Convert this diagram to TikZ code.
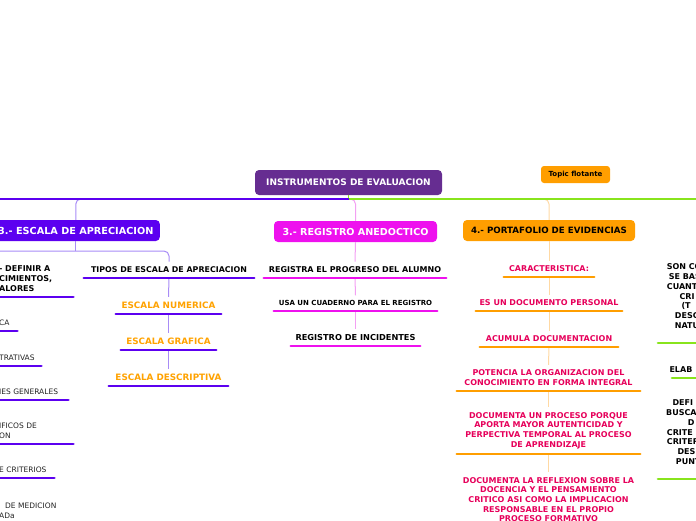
\documentclass[tikz,border=0pt]{standalone}
\usepackage{fontspec}
\setmainfont{DejaVu Sans}
\definecolor{rootc}{HTML}{662D91}
\definecolor{vio}{HTML}{5C00F0}
\definecolor{viol}{HTML}{A88CF6}
\definecolor{mag}{HTML}{EE11EE}
\definecolor{magl}{HTML}{F3A0F3}
\definecolor{orn}{HTML}{FF9E00}
\definecolor{ornl}{HTML}{FFD9A3}
\definecolor{ortx}{HTML}{FFA200}
\definecolor{crim}{HTML}{E6005A}
\definecolor{grn}{HTML}{88E41C}
\definecolor{dtx}{HTML}{222222}
\begin{document}
\begin{tikzpicture}[x=1pt,y=-1pt,
  topic/.style={rounded corners=4pt, inner sep=0pt, text=white},
  item/.style={inner xsep=0pt, inner ysep=5pt, align=center, anchor=south, font=\fontsize{8}{9.7}\selectfont\bfseries},
  leftitem/.style={inner xsep=0pt, inner ysep=5pt, align=left, anchor=south west, text=dtx, font=\fontsize{7.5}{10}\selectfont},
  ritem/.style={inner xsep=0pt, inner ysep=5pt, align=left, anchor=south west, text width=60pt, font=\fontsize{8}{9.7}\selectfont\bfseries},
  ul/.style={line width=2.7pt, line cap=round},
  conn/.style={line width=1pt},
  mainline/.style={line width=1.3pt},
]
\useasboundingbox (0,0) rectangle (696,520);
\clip (0,0) rectangle (696,520);

% coordinates
\coordinate (hub) at (348.5,199);
\coordinate (wend) at (-3,199);
\coordinate (eend) at (699,199);
\coordinate (lbus) at (-3,251);

% topics
\node[topic, fill=rootc, minimum width=187pt, minimum height=25pt, font=\fontsize{9}{10}\selectfont\bfseries] (root) at (348.5,182.5) {INSTRUMENTOS DE EVALUACION};
\node[topic, fill=orn, text=black, rounded corners=3pt, minimum width=69pt, minimum height=17pt, font=\fontsize{7}{8}\selectfont\bfseries] (flot) at (575.5,174.5) {Topic flotante};
\node[topic, fill=vio, minimum width=168pt, minimum height=21pt, anchor=east, font=\fontsize{9.7}{10}\selectfont\bfseries] (escala) at (160,230.5) {3.- ESCALA DE APRECIACION};
\node[topic, fill=mag, minimum width=163pt, minimum height=21pt, font=\fontsize{9.6}{10}\selectfont\bfseries] (registro) at (355.5,231.5) {3.- REGISTRO ANEDOCTICO};
\node[topic, fill=orn, text=black, minimum width=172pt, minimum height=21pt, font=\fontsize{8.7}{10}\selectfont\bfseries] (porta) at (549,230.5) {4.- PORTAFOLIO DE EVIDENCIAS};

% tipos column
\node[item, font=\fontsize{7.9}{9.7}\selectfont\bfseries, minimum width=170pt] (tipos) at (169,278) {TIPOS DE ESCALA DE APRECIACION};
\node[item, text=ortx, font=\fontsize{8.8}{10}\selectfont\bfseries, minimum width=105pt] (enum) at (168.5,314) {ESCALA NUMERICA};
\node[item, text=ortx, font=\fontsize{8.8}{10}\selectfont\bfseries, minimum width=95pt] (egraf) at (168.5,350) {ESCALA GRAFICA};
\node[item, text=ortx, font=\fontsize{8.8}{10}\selectfont\bfseries, minimum width=119pt] (edesc) at (168.5,386) {ESCALA DESCRIPTIVA};

% registro column
\node[item, minimum width=182pt] (reg1) at (355,278) {REGISTRA EL PROGRESO DEL ALUMNO};
\node[item, font=\fontsize{7}{9}\selectfont\bfseries, minimum width=163pt] (reg2) at (355.5,311) {USA UN CUADERNO PARA EL REGISTRO};
\node[item, font=\fontsize{8.2}{9.7}\selectfont\bfseries, minimum width=129pt] (reg3) at (355.5,346) {REGISTRO DE INCIDENTES};

% portafolio column
\node[item, text=crim, minimum width=90pt] (car) at (549,277) {CARACTERISTICA:};
\node[item, text=crim, minimum width=146pt] (pf1) at (549,311) {ES UN DOCUMENTO PERSONAL};
\node[item, text=crim, minimum width=138pt] (pf2) at (549,347) {ACUMULA DOCUMENTACION};
\node[item, text=crim, minimum width=183pt] (pf3) at (548.5,391) {POTENCIA LA ORGANIZACION DEL\\CONOCIMIENTO EN FORMA INTEGRAL};
\node[item, text=crim, minimum width=183pt] (pf4) at (548.5,454) {DOCUMENTA UN PROCESO PORQUE\\APORTA MAYOR AUTENTICIDAD Y\\PERPECTIVA TEMPORAL AL PROCESO\\DE APRENDIZAJE};
\node[item, text=crim, anchor=north, minimum width=183pt] (pf5) at (548.5,472) {DOCUMENTA LA REFLEXION SOBRE LA\\DOCENCIA Y EL PENSAMIENTO\\CRITICO ASI COMO LA IMPLICACION\\RESPONSABLE EN EL PROPIO\\PROCESO FORMATIVO};

% left column (cut by frame)
\node[leftitem, text=black, text width=74pt, font=\fontsize{8}{10}\selectfont\bfseries] (l1) at (-1,297) {- DEFINIR A\\CIMIENTOS,\\ALORES};
\node[leftitem, text width=18pt] (l2) at (-1,331) {CA};
\node[leftitem, text width=42pt] (l3) at (-1,366) {TRATIVAS};
\node[leftitem, text width=69pt] (l4) at (-1,400) {IES GENERALES};
\node[leftitem, text width=74pt] (l5) at (-1,444) {IFICOS DE\\ON};
\node[leftitem, text width=55pt] (l6) at (-1,478) {E CRITERIOS};
\node[leftitem, text width=74pt] (l7) at (-1,524) {\hspace*{6pt}DE MEDICION\\ADa};

% right column (cut by frame)
\node[ritem] (g1) at (658,343) {\hspace*{8.7pt}SON CO\\\hspace*{10.7pt}SE BAS\\\hspace*{8.7pt}CUANT\\\hspace*{21.3pt}CRI\\\hspace*{23.3pt}(T\\\hspace*{16.7pt}DESC\\\hspace*{16.7pt}NATU\\\mbox{}};
\node[ritem, text width=40pt] (g2) at (672,378) {\hspace*{-2.7pt}ELAB};
\node[ritem] (g3) at (658,479) {\hspace*{14.3pt}DEFI\\\hspace*{8pt}BUSCA\\\hspace*{29.7pt}D\\\hspace*{8.7pt}CRITE\\\hspace*{8.7pt}CRITER\\\hspace*{19.3pt}DES\\\hspace*{17.7pt}PUNT\\\mbox{}};

% branches
\draw[conn, viol, rounded corners=5pt] (hub) -| (escala.north);
\draw[conn, magl, rounded corners=5pt] (hub) -| (registro.north);
\draw[conn, ornl, rounded corners=5pt] (hub) -| (porta.north);

% connectors
\draw[conn, viol] (escala.south) -- (escala.south |- lbus);
\draw[conn, viol, rounded corners=5pt] (lbus) -| (tipos.north);
\draw[conn, viol] (tipos.south) -- (enum.north);
\draw[conn, viol] (enum.south) -- (egraf.north);
\draw[conn, viol] (egraf.south) -- (edesc.north);

\draw[conn, magl] (registro.south) -- (reg1.north);
\draw[conn, magl] (reg1.south) -- (reg2.north);
\draw[conn, magl] (reg2.south) -- (reg3.north);

\draw[conn, ornl] (porta.south) -- (car.north);
\draw[conn, ornl] (car.south) -- (pf1.north);
\draw[conn, ornl] (pf1.south) -- (pf2.north);
\draw[conn, ornl] (pf2.south) -- (pf3.north);
\draw[conn, ornl] (pf3.south) -- (pf4.north);
\draw[conn, ornl] (pf4.south) -- (pf5.north);

% main lines
\draw[mainline, grn] (root.south) -- (hub);
\draw[mainline, vio] (hub) -- (wend);
\draw[mainline, grn] (hub) -- (eend);

% underlines
\foreach \n in {tipos,enum,egraf,edesc,l1,l2,l3,l4,l5,l6,l7}
  \draw[ul, vio] (\n.south west) -- (\n.south east);
\foreach \n in {reg1,reg2,reg3}
  \draw[ul, mag] (\n.south west) -- (\n.south east);
\foreach \n in {car,pf1,pf2,pf3,pf4}
  \draw[ul, orn] (\n.south west) -- (\n.south east);
\foreach \n in {g1,g2,g3}
  \draw[ul, grn] (\n.south west) -- (\n.south east);
\end{tikzpicture}
\end{document}
